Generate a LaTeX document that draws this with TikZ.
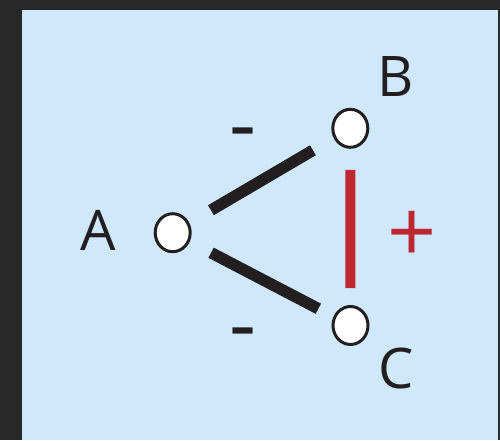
\documentclass[tikz,border=0pt]{standalone}
\usepackage{fontspec}
\setmainfont{Open Sans}
\usetikzlibrary{shapes.geometric}
\definecolor{darkbg}{HTML}{282828}
\definecolor{panel}{HTML}{CFE8FC}
\definecolor{ink}{HTML}{231F20}
\definecolor{redink}{HTML}{BE2630}
\begin{document}
\begin{tikzpicture}[x=1pt,y=-1pt,
  vertex/.style={ellipse,draw=ink,line width=3pt,fill=white,minimum width=35pt,minimum height=38pt,inner sep=0pt},
  letter/.style={text=ink,font=\fontsize{56}{56}\selectfont,inner sep=0pt},
  signlabel/.style={text=ink,font=\fontsize{84}{84}\selectfont,inner sep=0pt},
  plussign/.style={text=redink,font=\fontsize{86}{86}\selectfont,inner sep=0pt},
  negedge/.style={draw=ink,line width=11.5pt},
  posedge/.style={draw=redink,line width=10pt}]
\fill[darkbg] (0,0) rectangle (500,440);
\fill[panel] (22,10) rectangle (498,440);
\useasboundingbox (0,0) rectangle (500,440);
\node[vertex] (A) at (172.7,232.7) {};
\node[vertex] (B) at (350.3,128.3) {};
\node[vertex] (C) at (350.5,325.5) {};
\draw[negedge,shorten <=25pt,shorten >=24pt] (A) -- (B);
\draw[negedge,shorten <=24pt,shorten >=17pt] (A) -- (C);
\draw[posedge,shorten <=21pt,shorten >=17pt] (B) -- (C);
\node[letter] (la) at (98,230) {A};
\node[letter] (lb) at (396,77) {B};
\node[letter] (lc) at (396,368) {C};
\node[plussign] (lp) at (412,237) {+};
\node[signlabel] (m1) at (243,141) {-};
\node[signlabel] (m2) at (243,341) {-};
\end{tikzpicture}
\end{document}
